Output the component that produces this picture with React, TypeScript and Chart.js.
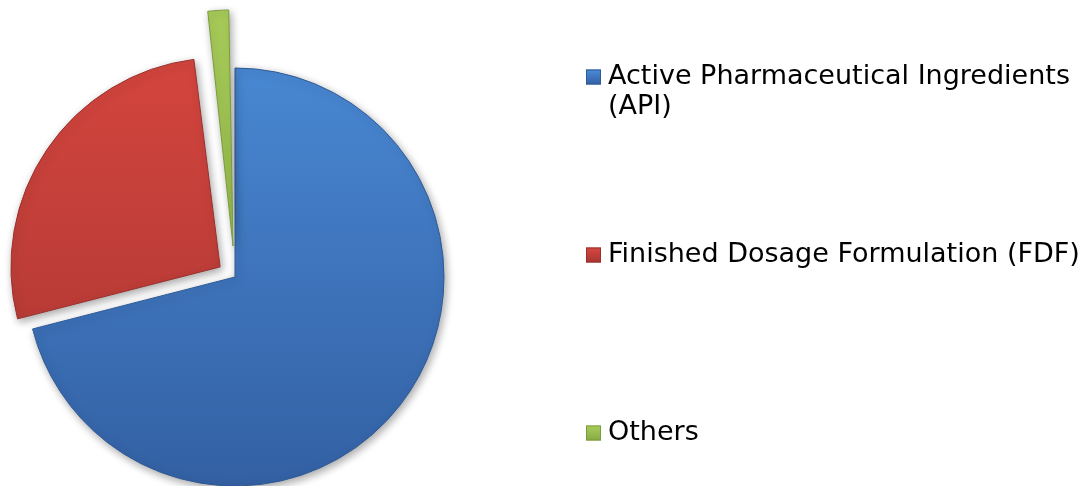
import React, { useEffect, useRef } from 'react';
import { Chart, registerables } from 'chart.js';

Chart.register(...registerables);

const categories = [
  'Active Pharmaceutical Ingredients (API)',
  'Finished Dosage Formulation (FDF)',
  'Others',
];
const shares = [71, 27, 2];
const explode = [0, 72, 124];
const topColors = ['#4b8cd8', '#d8473f', '#a9cd5a'];
const bottomColors = ['#3360a3', '#a93532', '#86aa43'];
const edgeColors = ['#2f5a96', '#9a302d', '#7a9c3c'];

const W = 1084;
const H = 486;

const legendFont = '27px "DejaVu Sans", Verdana, sans-serif';
const legendTop = 62;
const legendStep = 178;
const lineH = 30;
const boxX = 586;
const boxSize = 15;
const textX = 608;

function wrapText(ctx: CanvasRenderingContext2D, text: string, maxW: number): string[] {
  const words = text.split(' ');
  const lines: string[] = [];
  let cur = '';
  for (const w of words) {
    const test = cur ? cur + ' ' + w : w;
    if (ctx.measureText(test).width > maxW && cur) {
      lines.push(cur);
      cur = w;
    } else {
      cur = test;
    }
  }
  if (cur) lines.push(cur);
  return lines;
}

const shadowPlugin = {
  id: 'sliceShadow',
  beforeDatasetsDraw(chart: any) {
    const ctx = chart.ctx;
    ctx.save();
    ctx.shadowColor = 'rgba(0,0,0,0.35)';
    ctx.shadowBlur = 8;
    ctx.shadowOffsetX = 2;
    ctx.shadowOffsetY = 3;
  },
  afterDatasetsDraw(chart: any) {
    chart.ctx.restore();
  },
};

const legendPlugin = {
  id: 'sideLegend',
  afterDraw(chart: any) {
    const ctx: CanvasRenderingContext2D = chart.ctx;
    ctx.save();
    ctx.font = legendFont;
    ctx.textBaseline = 'middle';
    ctx.textAlign = 'left';
    const labels: string[] = chart.data.labels;
    labels.forEach((label, i) => {
      const top = legendTop + i * legendStep;
      const lines = wrapText(ctx, label, W - textX);
      ctx.fillStyle = '#000000';
      lines.forEach((line, j) => {
        ctx.fillText(line, textX, top + lineH / 2 + j * lineH);
      });
      const by = top + lineH / 2 - boxSize / 2;
      const g = ctx.createLinearGradient(0, by, 0, by + boxSize);
      g.addColorStop(0, topColors[i]);
      g.addColorStop(1, bottomColors[i]);
      ctx.fillStyle = g;
      ctx.fillRect(boxX, by, boxSize, boxSize);
      ctx.strokeStyle = edgeColors[i];
      ctx.lineWidth = 1;
      ctx.strokeRect(boxX + 0.5, by + 0.5, boxSize - 1, boxSize - 1);
    });
    ctx.restore();
  },
};

export default function App() {
  const ref = useRef<HTMLCanvasElement | null>(null);

  useEffect(() => {
    const canvas = ref.current;
    if (!canvas) return;
    const chart = new Chart(canvas, {
      type: 'pie',
      data: {
        labels: categories,
        datasets: [
          {
            data: shares,
            offset: explode,
            radius: 209,
            clip: false,
            borderWidth: 1,
            borderColor: edgeColors,
            backgroundColor: (c: any) => {
              const i = c.dataIndex ?? 0;
              const g = c.chart.ctx.createLinearGradient(0, 20, 0, 486);
              g.addColorStop(0, topColors[i]);
              g.addColorStop(1, bottomColors[i]);
              return g;
            },
          } as any,
        ],
      },
      options: {
        responsive: false,
        animation: false,
        rotation: 0,
        radius: 209,
        layout: { padding: { left: 0, right: W - 470, top: 68, bottom: 0 } },
        plugins: {
          legend: { display: false },
          tooltip: { enabled: false },
        },
      } as any,
      plugins: [shadowPlugin, legendPlugin],
    });
    return () => chart.destroy();
  }, []);

  return (
    <div style={{ position: 'fixed', left: 0, top: 0, width: W, height: H, background: '#ffffff' }}>
      <canvas ref={ref} width={W} height={H} style={{ display: 'block' }} />
    </div>
  );
}
